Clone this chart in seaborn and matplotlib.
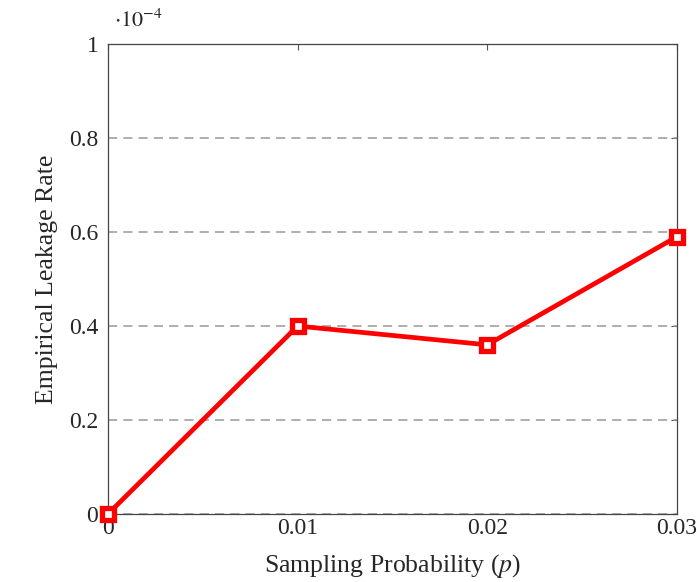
import matplotlib
matplotlib.use("Agg")
import matplotlib.pyplot as plt
import seaborn as sns

# sampling probability p and leakage rate (in units of 1e-4)
sampling_prob = [0, 0.01, 0.02, 0.03]
leakage_rate = [0.0, 0.40, 0.36, 0.59]
x_ticks = [0, 0.01, 0.02, 0.03]
x_tick_labels = ["0", "0.01", "0.02", "0.03"]
y_ticks = [0, 0.2, 0.4, 0.6, 0.8, 1.0]
y_tick_labels = ["0", "0.2", "0.4", "0.6", "0.8", "1"]

sns.set_style("white")
plt.rcParams['font.family'] = ['Liberation Serif', 'DejaVu Serif']
plt.rcParams['mathtext.fontset'] = 'stix'

fig = plt.figure(figsize=(6.97, 5.82), dpi=100)
ax = fig.add_axes([0.155, 0.117, 0.816, 0.807])

sns.lineplot(x=sampling_prob, y=leakage_rate, ax=ax, color='red', linewidth=3.4,
             marker='s', markersize=9, markerfacecolor='white',
             markeredgecolor='red', markeredgewidth=3.8, zorder=5, clip_on=False)

ax.set_xlim(0, 0.03)
ax.set_ylim(0, 1)
ax.set_xticks(x_ticks)
ax.set_xticklabels(x_tick_labels)
ax.set_yticks(y_ticks)
ax.set_yticklabels(y_tick_labels)
for y in y_ticks[:-1]:
    ax.axhline(y, color='#999999', linestyle=(0, (6, 4)), linewidth=1.1, zorder=1)

for s in ax.spines.values():
    s.set_color('#444444')
    s.set_linewidth(0.9)
ax.tick_params(axis='both', direction='in', length=4, width=0.8, color='#555555',
               labelsize=17, top=True, right=True)
ax.tick_params(axis='y', pad=7)
ax.tick_params(axis='x', pad=3)

ax.set_xlabel('Sampling Probability ($p$)', fontsize=18.5, labelpad=9)
ax.set_ylabel('Empirical Leakage Rate', fontsize=18.5, labelpad=8)
ax.text(0.01, 1.025, r'$\cdot10^{-4}$', transform=ax.transAxes, fontsize=16,
        ha='left', va='bottom')

fig.savefig('out.png', dpi=100)
